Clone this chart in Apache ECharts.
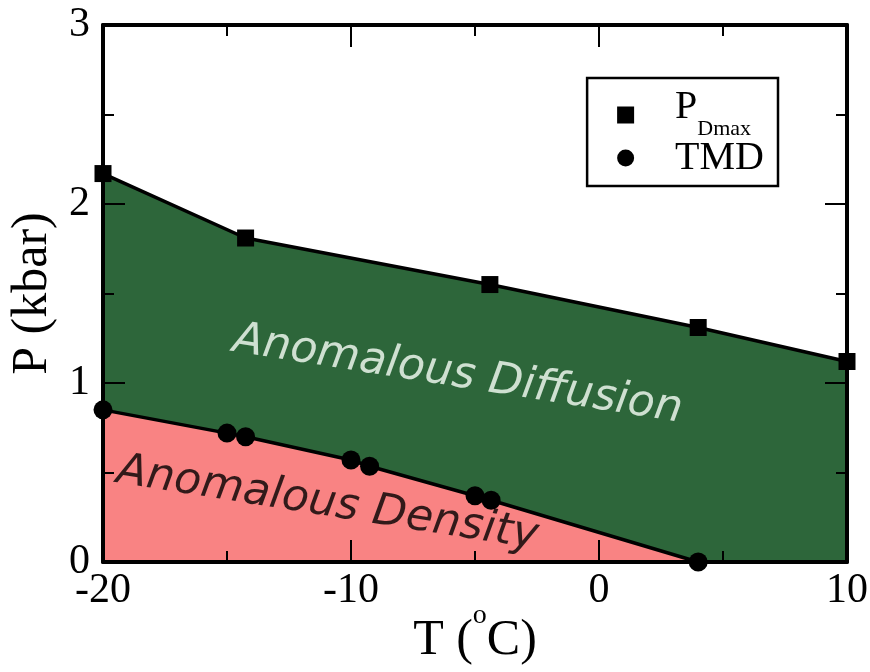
<!DOCTYPE html>
<html><head><meta charset="utf-8">
<script src="https://cdn.jsdelivr.net/npm/echarts@6/dist/echarts.min.js"></script>
<style>html,body{margin:0;padding:0;background:#fff}#c{width:870px;height:672px}</style>
</head><body><div id="c"></div>
<script>
// ---- data ----
const pdmaxT = [-20, -14.25, -4.4, 4, 10];
const pdmaxP = [2.17, 1.81, 1.55, 1.31, 1.12];
const tmdT = [-20, -15, -14.25, -10, -9.25, -5, -4.35, 4];
const tmdP = [0.85, 0.72, 0.70, 0.57, 0.535, 0.37, 0.345, 0];
const xTickLabels = [-20, -10, 0, 10];
const yTickLabels = [0, 1, 2, 3];
const regionNames = ['Anomalous Diffusion', 'Anomalous Density'];
const regionT = [-5.7, -10.95];
const regionP = [1.045, 0.324];

const SERIF = "'Liberation Serif','Times New Roman',serif";
const SANS = "'DejaVu Sans',sans-serif";
const GREEN = '#2d663a';
const PINK = '#f98383';

const zip = (a, b) => a.map((v, i) => [v, b[i]]);

const axisCommon = (extra) => Object.assign({
  type: 'value', z: 10, nameMoveOverlap: false,
  axisLine: { show: true, onZero: false, lineStyle: { color: '#000', width: 4 } },
  axisTick: { show: true, inside: true, length: 22, lineStyle: { color: '#000', width: 2 } },
  minorTick: { show: true, splitNumber: 2, length: 11, lineStyle: { color: '#000', width: 2 } },
  splitLine: { show: false },
  minorSplitLine: { show: false }
}, extra);

const chart = echarts.init(document.getElementById('c'), null, { renderer: 'canvas' });
chart.setOption({
  animation: false,
  backgroundColor: '#fff',
  grid: { left: 103, right: 23, top: 25, bottom: 110, containLabel: false, outerBoundsMode: 'none' },
  xAxis: [
    axisCommon({
      position: 'bottom', min: xTickLabels[0], max: xTickLabels[xTickLabels.length - 1], interval: 10,
      axisLabel: { color: '#000', fontFamily: SERIF, fontSize: 42, margin: 8,
        formatter: v => xTickLabels.includes(v) ? String(v) : '' },
      name: '{t|T (}{o|o}{t|C)}', nameLocation: 'middle', nameGap: 40,
      nameTextStyle: { color: '#000', fontFamily: SERIF, rich: {
        t: { fontFamily: SERIF, fontSize: 50, lineHeight: 50, color: '#000', verticalAlign: 'top', padding: [14, 0, 0, 0] },
        o: { fontFamily: SERIF, fontSize: 28, lineHeight: 28, color: '#000', verticalAlign: 'top' }
      } }
    }),
    axisCommon({
      position: 'top', min: xTickLabels[0], max: xTickLabels[xTickLabels.length - 1], interval: 10,
      axisLabel: { show: false }
    })
  ],
  yAxis: [
    axisCommon({
      position: 'left', min: yTickLabels[0], max: yTickLabels[yTickLabels.length - 1], interval: 1,
      axisLabel: { color: '#000', fontFamily: SERIF, fontSize: 42, margin: 13,
        formatter: v => yTickLabels.includes(v) ? String(v) : '' },
      name: 'P (kbar)', nameLocation: 'middle', nameGap: 45,
      nameTextStyle: { color: '#000', fontFamily: SERIF, fontSize: 50 }
    }),
    axisCommon({
      position: 'right', min: yTickLabels[0], max: yTickLabels[yTickLabels.length - 1], interval: 1,
      axisLabel: { show: false }
    })
  ],
  legend: {
    data: [{ name: 'PDmax', icon: 'rect' }, { name: 'TMD', icon: 'circle' }],
    orient: 'vertical', right: 92, top: 78,
    borderColor: '#000', borderWidth: 2.5, borderRadius: 0,
    padding: [9, 14, 8, 30], itemGap: -2, itemWidth: 17, itemHeight: 17,
    formatter: n => n === 'PDmax' ? '{p|P}{s|Dmax}' : '{p|TMD}',
    textStyle: { color: '#000', fontFamily: SERIF, fontSize: 40, padding: [0, 0, 0, 36], rich: {
      p: { fontFamily: SERIF, fontSize: 40, lineHeight: 40, color: '#000', verticalAlign: 'top' },
      s: { fontFamily: SERIF, fontSize: 22, lineHeight: 56, color: '#000', verticalAlign: 'top', padding: [31, 0, 0, 0] }
    } }
  },
  series: [
    {
      name: 'PDmax', type: 'line', data: zip(pdmaxT, pdmaxP), clip: false,
      symbol: 'rect', symbolSize: 17, showAllSymbol: true,
      itemStyle: { color: '#000' }, lineStyle: { color: '#000', width: 3.5 },
      areaStyle: { color: GREEN, opacity: 1 }, z: 2
    },
    {
      name: 'TMD', type: 'line', data: zip(tmdT, tmdP), clip: false,
      symbol: 'circle', symbolSize: 19, showAllSymbol: true,
      itemStyle: { color: '#000' }, lineStyle: { color: '#000', width: 3.5 },
      areaStyle: { color: PINK, opacity: 1 }, z: 3
    },
    {
      name: 'regions', type: 'scatter', symbolSize: 0, z: 4, silent: true,
      data: regionNames.map((n, i) => ({
        value: [regionT[i], regionP[i]], name: n,
        label: { color: i === 0 ? '#f8fff8' : '#000' }
      })),
      label: { show: true, position: 'inside', rotate: -9, formatter: p => p.name,
        fontFamily: SANS, fontStyle: 'oblique', fontSize: 44 }
    }
  ]
});
</script></body></html>
